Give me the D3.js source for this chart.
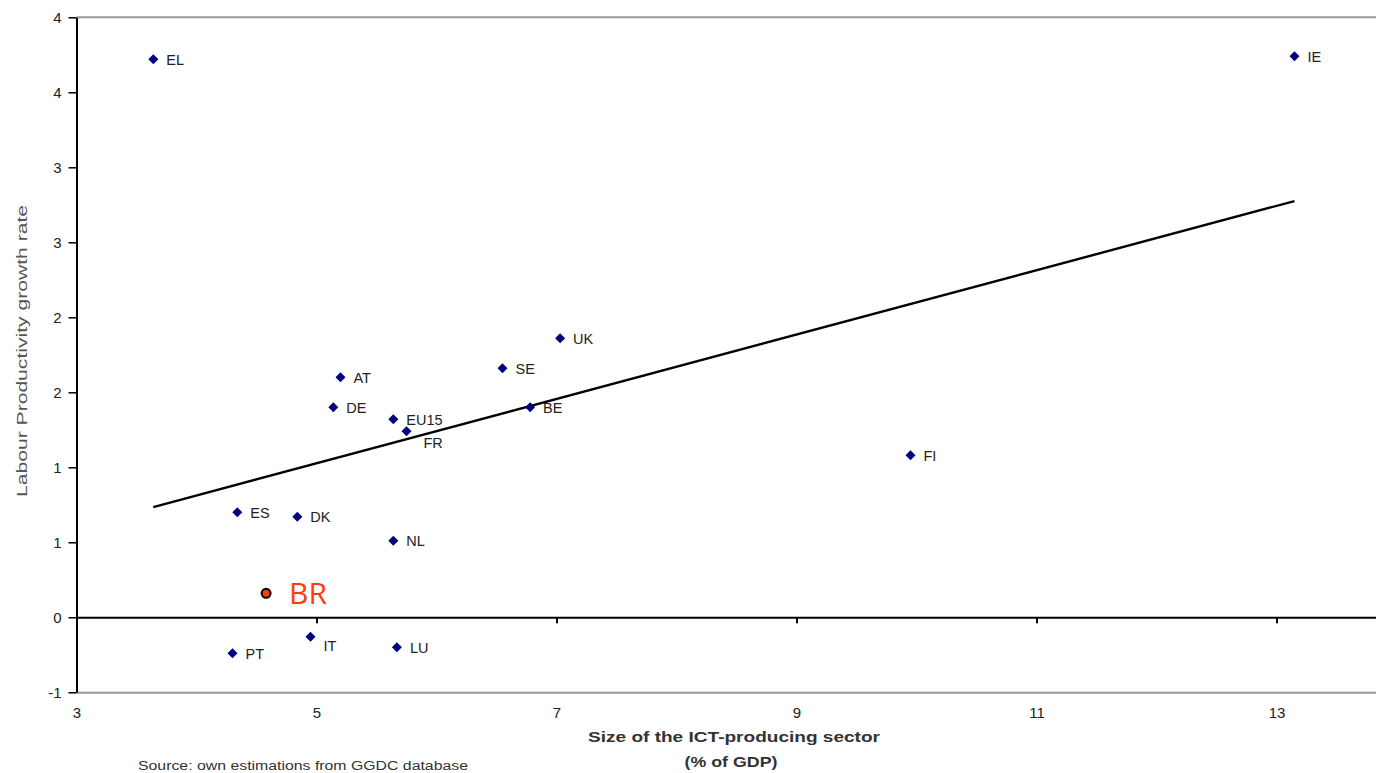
<!DOCTYPE html>
<html>
<head>
<meta charset="utf-8">
<script src="https://cdn.jsdelivr.net/npm/d3@7"></script>
<style>
  body { margin: 0; background: #fff; }
  svg { display: block; font-family: "Liberation Sans", Arial, sans-serif; }
</style>
</head>
<body>
<script>
// countries and their values
var countries = ["EL", "IE", "UK", "SE", "AT", "DE", "EU15", "BE", "FR", "FI", "ES", "DK", "NL", "IT", "PT", "LU"];
var ictSize   = [3.64, 13.15, 7.03, 6.55, 5.20, 5.14, 5.64, 6.78, 5.75, 9.95, 4.34, 4.84, 5.64, 4.95, 4.30, 5.67];
var prodGrowth = [3.72, 3.74, 1.86, 1.66, 1.60, 1.40, 1.32, 1.40, 1.24, 1.08, 0.70, 0.67, 0.51, -0.13, -0.24, -0.20];

// the added point
var extraName = "BR";
var extraX = 4.58;
var extraY = 0.16;

// regression line end points
var trendX = [3.64, 13.15];
var trendY = [0.735, 2.775];

var xTicks = [3, 5, 7, 9, 11, 13];
var yTicks = [-0.5, 0, 0.5, 1, 1.5, 2, 2.5, 3, 3.5, 4];
var yTickLabels = ["-1", "0", "1", "1", "2", "2", "3", "3", "4", "4"];

var width = 1376, height = 773;
var margin = { left: 76.5, top: 17.3 };

// small nudges for labels that sit below-right of their marker
var labelNudge = { FR: [17, 11], IT: [13, 9] };

var x = d3.scaleLinear().domain([3, 14]).range([margin.left, margin.left + 120 * 11]);
var y = d3.scaleLinear().domain([-0.5, 4]).range([margin.top + 675, margin.top]);

var svg = d3.select("body").append("svg")
    .attr("width", width)
    .attr("height", height);

// top border
svg.append("line")
    .attr("x1", margin.left).attr("x2", width)
    .attr("y1", y(4)).attr("y2", y(4))
    .attr("stroke", "#999").attr("stroke-width", 2);

// bottom border with the x tick labels
var xLabels = svg.append("g")
    .attr("transform", "translate(0," + y(-0.5) + ")")
    .call(d3.axisBottom(x).tickValues(xTicks).tickSize(0).tickPadding(15).tickFormat(d3.format("d")));
xLabels.select(".domain").attr("stroke", "#999").attr("stroke-width", 2);
xLabels.selectAll("text").attr("font-size", 15).attr("fill", "#222").attr("font-family", "Liberation Sans, Arial");

// zero line with ticks
var zeroAxis = svg.append("g")
    .attr("transform", "translate(0," + y(0) + ")")
    .call(d3.axisBottom(x).tickValues(xTicks.slice(1)).tickSize(6).tickSizeOuter(0).tickFormat(""));
zeroAxis.select(".domain").attr("stroke", "#000").attr("stroke-width", 2);
zeroAxis.selectAll(".tick line").attr("stroke", "#000").attr("stroke-width", 2);

// y axis
var yAxis = svg.append("g")
    .attr("transform", "translate(" + margin.left + ",0)")
    .call(d3.axisLeft(y).tickValues(yTicks).tickSize(8).tickSizeOuter(0).tickPadding(7)
        .tickFormat(function(d, i) { return yTickLabels[i]; }));
yAxis.select(".domain").attr("stroke", "#000").attr("stroke-width", 2);
yAxis.selectAll(".tick line").attr("stroke", "#000").attr("stroke-width", 1.5);
yAxis.selectAll("text").attr("font-size", 15).attr("fill", "#222").attr("font-family", "Liberation Sans, Arial");

// trend line
svg.append("path")
    .attr("d", d3.line().x(function(d) { return x(d); }).y(function(d, i) { return y(trendY[i]); })(trendX))
    .attr("fill", "none")
    .attr("stroke", "#000")
    .attr("stroke-width", 2.4);

// markers
var pts = svg.append("g").selectAll("g")
    .data(countries)
    .enter().append("g")
    .attr("transform", function(d, i) { return "translate(" + x(ictSize[i]) + "," + y(prodGrowth[i]) + ")"; });

pts.append("path")
    .attr("d", d3.symbol().type(d3.symbolSquare).size(50))
    .attr("transform", "rotate(45)")
    .attr("fill", "#00007f");

pts.append("text")
    .attr("x", function(d) { return labelNudge[d] ? labelNudge[d][0] : 13; })
    .attr("y", function(d) { return labelNudge[d] ? labelNudge[d][1] : 0; })
    .attr("dy", "0.36em")
    .attr("font-size", 14.5)
    .attr("fill", "#222")
    .text(function(d) { return d; });

// BR point
svg.append("circle")
    .attr("cx", x(extraX)).attr("cy", y(extraY))
    .attr("r", 4.5)
    .attr("fill", "#ff3b0a")
    .attr("stroke", "#000")
    .attr("stroke-width", 2);

svg.append("text")
    .attr("x", x(extraX) + 23)
    .attr("y", y(extraY) + 10.5)
    .attr("font-family", "Open Sans, Noto Sans, sans-serif")
    .attr("font-size", 30)
    .attr("fill", "#ff3b0a")
    .text(extraName);

// axis titles
svg.append("text")
    .attr("transform", "translate(27,351) rotate(-90)")
    .attr("text-anchor", "middle")
    .attr("font-size", 15)
    .attr("fill", "#555")
    .attr("textLength", 292)
    .attr("lengthAdjust", "spacingAndGlyphs")
    .text("Labour Productivity growth rate");

svg.append("text")
    .attr("x", 734).attr("y", 742)
    .attr("text-anchor", "middle")
    .attr("font-size", 15)
    .attr("font-weight", "bold")
    .attr("fill", "#333")
    .attr("textLength", 292)
    .attr("lengthAdjust", "spacingAndGlyphs")
    .text("Size of the ICT-producing sector");

svg.append("text")
    .attr("x", 731).attr("y", 767)
    .attr("text-anchor", "middle")
    .attr("font-size", 15)
    .attr("font-weight", "bold")
    .attr("fill", "#333")
    .attr("textLength", 93)
    .attr("lengthAdjust", "spacingAndGlyphs")
    .text("(% of GDP)");

svg.append("text")
    .attr("x", 138).attr("y", 770)
    .attr("font-size", 12)
    .attr("fill", "#333")
    .attr("textLength", 330)
    .attr("lengthAdjust", "spacingAndGlyphs")
    .text("Source: own estimations from GGDC database");
</script>
</body>
</html>
